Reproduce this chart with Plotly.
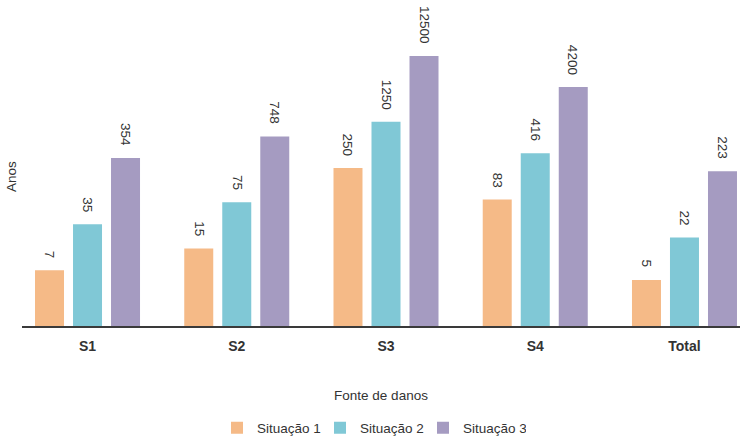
import math
import plotly.graph_objects as go

categories = ["S1", "S2", "S3", "S4", "Total"]
series_names = ["Situação 1", "Situação 2", "Situação 3"]
sit1 = [7, 15, 250, 83, 5]
sit2 = [35, 75, 1250, 416, 22]
sit3 = [354, 748, 12500, 4200, 223]
colors = ["#F5BA87", "#80C8D6", "#A59BC1"]

all_series = [sit1, sit2, sit3]
FONT = "Liberation Sans, Arial, sans-serif"
TXT = "#333333"

fig = go.Figure()
for name, vals, col in zip(series_names, all_series, colors):
    fig.add_trace(go.Bar(x=categories, y=vals, name=name, marker=dict(color=col, line=dict(width=0))))

# value labels above bars
offsets = [-38, 0, 38]
for vals, dx in zip(all_series, offsets):
    for c, v in zip(categories, vals):
        fig.add_annotation(
            x=c, y=math.log10(v), xref="x", yref="y", text=str(v), showarrow=False,
            textangle=90, xanchor="center", yanchor="bottom", yshift=11, xshift=dx,
            font=dict(family=FONT, size=13.5, color=TXT), borderpad=0,
        )

fig.update_layout(
    width=740, height=440,
    margin=dict(l=22, r=0, t=27, b=114.4, autoexpand=False),
    paper_bgcolor="white", plot_bgcolor="white",
    barmode="group", bargap=0.236, bargroupgap=0.237,
    font=dict(family=FONT, size=13, color=TXT),
    showlegend=True,
    legend=dict(orientation="h", xref="paper", x=(217 - 22) / 718, xanchor="left",
                yref="container", y=12 / 440, yanchor="middle",
                entrywidth=58, entrywidthmode="pixels",
                font=dict(family=FONT, size=13.5, color=TXT), itemwidth=30),
    xaxis=dict(range=[-0.439, 4.372], showline=True, linecolor="#3a3a3a", linewidth=2,
               ticks="", showgrid=False, zeroline=False, ticklabelstandoff=6, automargin=False,
               tickfont=dict(family=FONT, size=14, color=TXT, weight="bold"),
               title=dict(text="Fonte de danos", font=dict(family=FONT, size=13.5, color=TXT), standoff=38)),
    yaxis=dict(type="log", range=[0, 4.535], showline=False, showticklabels=False, ticks="",
               showgrid=False, zeroline=False, automargin=False,
               title=dict(text="Anos", font=dict(family=FONT, size=13.5, color=TXT), standoff=1)),
)

fig.write_html(
    "out.html",
    config={"displayModeBar": False},
    post_script="document.body.style.margin='0';document.body.style.overflow='hidden';",
)
